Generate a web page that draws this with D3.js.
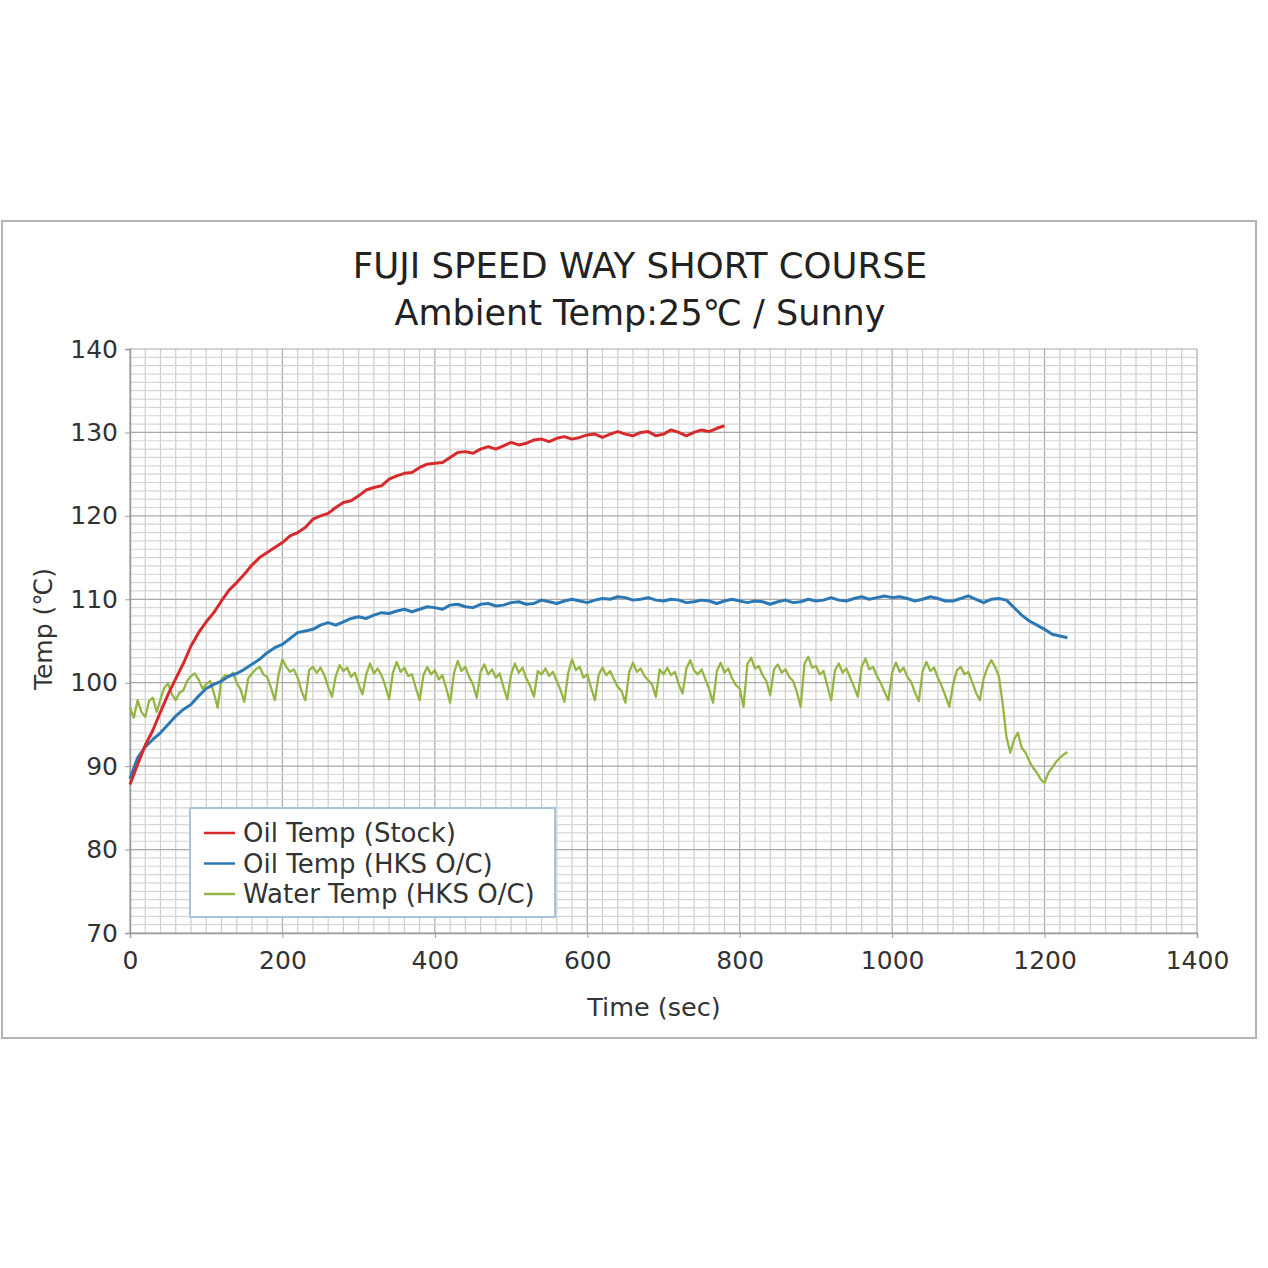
<html>
<head>
<meta charset="utf-8">
<script src="https://d3js.org/d3.v7.min.js"></script>
<style>
body { margin: 0; background: #fff; }
#chart svg { font-family: "DejaVu Sans", Verdana, sans-serif; }
</style>
</head>
<body>
<div id="chart"></div>
<script type="text/javascript">

// titles / labels
var titleLines = ["FUJI SPEED WAY SHORT COURSE", "Ambient Temp:25\u2103 / Sunny"];
var xLabel = "Time (sec)";
var yLabel = "Temp (\u2103)";
var xTicks = [0, 200, 400, 600, 800, 1000, 1200, 1400];
var yTicks = [70, 80, 90, 100, 110, 120, 130, 140];
var seriesNames = ["Oil Temp (Stock)", "Oil Temp (HKS O/C)", "Water Temp (HKS O/C)"];

// oil temp stock, one value every 10 sec (0 .. 780)
var oilStockStep = 10;
var oilStock = [
  87.8, 90.2, 92.5, 94.3, 96.5, 98.6, 100.5, 102.3, 104.4, 106.0,
  107.3, 108.4, 109.8, 111.1, 112.0, 113.0, 114.1, 115.0, 115.6, 116.2,
  116.8, 117.6, 118.0, 118.6, 119.6, 120.0, 120.3, 121.0, 121.6, 121.8,
  122.4, 123.1, 123.4, 123.6, 124.4, 124.8, 125.1, 125.2, 125.8, 126.2,
  126.3, 126.4, 127.0, 127.6, 127.7, 127.5, 128.0, 128.3, 128.0, 128.4,
  128.8, 128.5, 128.7, 129.1, 129.2, 128.9, 129.3, 129.5, 129.2, 129.4,
  129.7, 129.8, 129.4, 129.8, 130.1, 129.8, 129.6, 130.0, 130.1, 129.6,
  129.8, 130.3, 130.0, 129.6, 130.0, 130.3, 130.1, 130.5, 130.8
];

// oil temp HKS oil cooler, every 10 sec (0 .. 1230)
var oilHksStep = 10;
var oilHks = [
  88.5, 91.0, 92.3, 93.2, 94.0, 95.0, 96.0, 96.8, 97.4, 98.4,
  99.3, 99.8, 100.2, 100.8, 101.1, 101.6, 102.2, 102.8, 103.6, 104.2,
  104.6, 105.3, 106.0, 106.2, 106.4, 106.9, 107.2, 106.9, 107.3, 107.7,
  107.9, 107.7, 108.1, 108.4, 108.3, 108.6, 108.8, 108.5, 108.8, 109.1,
  109.0, 108.8, 109.3, 109.4, 109.1, 109.0, 109.4, 109.5, 109.2, 109.3,
  109.6, 109.7, 109.4, 109.5, 109.9, 109.7, 109.5, 109.8, 110.0, 109.8,
  109.6, 109.9, 110.1, 110.0, 110.3, 110.2, 109.9, 110.0, 110.2, 109.9,
  109.8, 110.0, 109.9, 109.6, 109.7, 109.9, 109.8, 109.5, 109.8, 110.0,
  109.8, 109.6, 109.8, 109.7, 109.4, 109.7, 109.9, 109.6, 109.7, 110.0,
  109.8, 109.9, 110.2, 109.9, 109.8, 110.1, 110.3, 110.0, 110.2, 110.4,
  110.2, 110.3, 110.1, 109.8, 110.0, 110.3, 110.1, 109.8, 109.8, 110.1,
  110.4, 110.0, 109.6, 110.0, 110.1, 109.9, 109.0, 108.1, 107.4, 106.9,
  106.4, 105.8, 105.6, 105.4
];

// water temp HKS oil cooler, every 5 sec (0 .. 1230)
var waterStep = 5;
var water = [
  97.0, 95.8, 97.9, 96.5, 95.9, 97.8, 98.2, 96.5, 98.0, 99.4,
  99.9, 98.6, 97.9, 98.8, 99.1, 100.2, 100.8, 101.1, 100.4, 99.3,
  99.8, 100.2, 98.8, 97.0, 100.4, 100.9, 100.7, 101.2, 100.0, 99.2,
  97.7, 100.5, 101.1, 101.6, 101.9, 101.0, 100.7, 99.4, 97.9, 101.0,
  102.8, 101.9, 101.3, 101.6, 100.6, 99.0, 97.9, 101.5, 101.9, 101.2,
  101.8, 100.9, 99.5, 98.3, 100.8, 102.1, 101.4, 101.8, 100.7, 101.2,
  99.8, 98.6, 101.0, 102.3, 101.1, 101.7, 100.9, 99.6, 98.0, 101.2,
  102.5, 101.3, 101.8, 100.8, 101.0, 99.4, 97.9, 100.9, 101.9, 101.0,
  101.5, 100.4, 100.9, 99.3, 97.6, 101.1, 102.6, 101.4, 101.9, 100.7,
  99.8, 98.2, 101.3, 102.2, 101.0, 101.6, 100.6, 101.1, 99.5, 98.0,
  101.0, 102.3, 101.2, 101.8, 100.5, 99.6, 98.3, 101.4, 101.0, 101.7,
  100.8, 101.3, 100.2, 99.1, 97.7, 101.2, 102.8, 101.5, 101.9, 100.6,
  101.0, 99.4, 97.9, 101.0, 101.8, 100.9, 101.4, 100.4, 99.5, 99.0,
  97.6, 101.3, 102.4, 101.3, 101.7, 100.8, 100.3, 99.8, 98.3, 101.6,
  101.0, 101.8, 100.9, 101.3, 99.8, 98.7, 101.7, 102.7, 101.5, 101.0,
  101.6, 100.4, 99.2, 97.6, 101.4, 102.4, 101.2, 101.7, 100.5, 99.7,
  99.3, 97.1, 102.2, 103.0, 101.7, 102.0, 100.9, 100.2, 98.5, 101.6,
  102.2, 101.2, 101.6, 100.7, 100.2, 98.9, 97.1, 102.3, 103.1, 101.8,
  102.0, 101.0, 101.4, 99.6, 97.9, 101.5, 102.3, 101.2, 101.7, 100.6,
  99.5, 98.3, 101.9, 102.9, 101.6, 101.9, 100.8, 100.0, 98.9, 97.9,
  101.2, 102.4, 101.3, 101.8, 100.7, 100.1, 98.8, 97.8, 101.4, 102.5,
  101.4, 101.8, 100.6, 99.6, 98.4, 97.1, 99.8, 101.5, 101.9, 101.0,
  101.3, 100.1, 98.8, 97.9, 100.5, 101.8, 102.7, 101.9, 100.8, 97.5,
  93.5, 91.6, 93.2, 94.0, 92.2, 91.6, 90.6, 89.8, 89.2, 88.4,
  88.0, 89.2, 89.8, 90.5, 91.0, 91.4, 91.7
];

var seriesColors = ["#d62a2c", "#2b78b5", "#95b644"];

var W = 1268, H = 1268;
var plot = { left: 130, right: 1197, top: 349, bottom: 933 };

var svg = d3.select("#chart").append("svg")
	.attr("width", W)
	.attr("height", H);

// outer frame
svg.append("rect")
	.attr("x", 2).attr("y", 221)
	.attr("width", 1254).attr("height", 817)
	.style("fill", "#fff")
	.style("stroke", "#b4b4b4")
	.style("stroke-width", 2);

var x = d3.scaleLinear().domain([0, 1400]).range([plot.left, plot.right]);
var y = d3.scaleLinear().domain([70, 140]).range([plot.bottom, plot.top]);

// grid: minor every 20 sec / 1 deg, major every 200 sec / 10 deg
var grid = svg.append("g").attr("class", "grid");
grid.selectAll(".vminor")
	.data(d3.range(0, 1401, 20))
	.enter().append("line")
	.attr("x1", function(d) { return x(d); })
	.attr("x2", function(d) { return x(d); })
	.attr("y1", plot.top).attr("y2", plot.bottom)
	.style("stroke", function(d) { return d % 200 == 0 ? "#a9a9a9" : "#cdcdcd"; })
	.style("stroke-width", 1.2);
grid.selectAll(".hminor")
	.data(d3.range(70, 141, 1))
	.enter().append("line")
	.attr("y1", function(d) { return y(d); })
	.attr("y2", function(d) { return y(d); })
	.attr("x1", plot.left).attr("x2", plot.right)
	.style("stroke", function(d) { return d % 10 == 0 ? "#a9a9a9" : "#d6d6d6"; })
	.style("stroke-width", 1.2);

// axes
var xAxis = svg.append("g")
	.attr("transform", "translate(0," + plot.bottom + ")")
	.call(d3.axisBottom(x).tickValues(xTicks).tickFormat(d3.format("d")).tickSize(5).tickPadding(13));
var yAxis = svg.append("g")
	.attr("transform", "translate(" + plot.left + ",0)")
	.call(d3.axisLeft(y).tickValues(yTicks).tickSize(5).tickPadding(7));
[xAxis, yAxis].forEach(function(a) {
	a.select(".domain").style("stroke", "#9a9a9a").style("stroke-width", 1.5);
	a.selectAll(".tick line").style("stroke", "#9a9a9a");
	a.selectAll("text")
		.style("font-family", "'DejaVu Sans', Verdana, sans-serif")
		.style("font-size", "25px")
		.style("fill", "#333");
});

// series lines
function lineFor(step) {
	return d3.line()
		.x(function(d, i) { return x(i * step); })
		.y(function(d) { return y(d); });
}
var series = [
	{ values: water, step: waterStep, color: seriesColors[2], width: 2.3 },
	{ values: oilHks, step: oilHksStep, color: seriesColors[1], width: 3 },
	{ values: oilStock, step: oilStockStep, color: seriesColors[0], width: 3 }
];
svg.selectAll(".series")
	.data(series)
	.enter().append("path")
	.attr("class", "series")
	.attr("d", function(d) { return lineFor(d.step)(d.values); })
	.style("fill", "none")
	.style("stroke", function(d) { return d.color; })
	.style("stroke-width", function(d) { return d.width; })
	.style("stroke-linejoin", "round");

// titles
svg.selectAll(".title")
	.data(titleLines)
	.enter().append("text")
	.attr("class", "title")
	.attr("x", 640)
	.attr("y", function(d, i) { return 278 + i * 47; })
	.attr("text-anchor", "middle")
	.style("font-size", function(d, i) { return i == 0 ? "35.5px" : "35px"; })
	.style("fill", "#222")
	.text(function(d) { return d; });

svg.append("text")
	.attr("x", 654).attr("y", 1016)
	.attr("text-anchor", "middle")
	.style("font-size", "25.5px")
	.style("fill", "#333")
	.text(xLabel);

svg.append("text")
	.attr("transform", "translate(52,629) rotate(-90)")
	.attr("text-anchor", "middle")
	.style("font-size", "25px")
	.style("fill", "#333")
	.text(yLabel);

// legend
var legend = svg.append("g").attr("transform", "translate(190,808)");
legend.append("rect")
	.attr("width", 365).attr("height", 109)
	.style("fill", "#fff")
	.style("stroke", "#a9c3da")
	.style("stroke-width", 2);
var items = legend.selectAll(".item")
	.data(seriesNames)
	.enter().append("g")
	.attr("transform", function(d, i) { return "translate(0," + (25 + i * 30.5) + ")"; });
items.append("line")
	.attr("x1", 14).attr("x2", 45)
	.style("stroke", function(d, i) { return seriesColors[i]; })
	.style("stroke-width", 2.5);
items.append("text")
	.attr("x", 53).attr("dy", "0.36em")
	.style("font-size", "26px")
	.style("fill", "#333")
	.text(function(d) { return d; });

</script>
</body>
</html>
